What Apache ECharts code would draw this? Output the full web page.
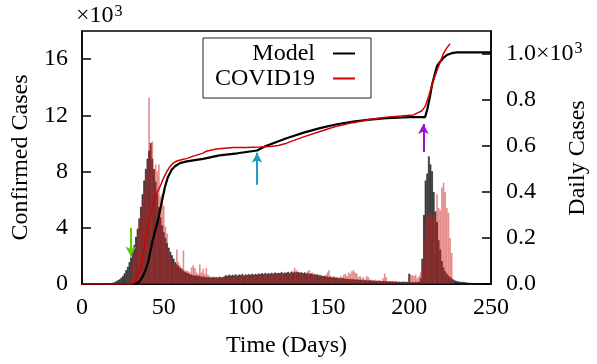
<!DOCTYPE html>
<html>
<head>
<meta charset="utf-8">
<script src="https://cdn.jsdelivr.net/npm/echarts@6/dist/echarts.min.js"></script>
<style>
html,body{margin:0;padding:0;background:#fff;}
#chart{width:597px;height:364px;}
</style>
</head>
<body>
<div id="chart"></div>
<script>
// x ticks
const xTicks = [0, 50, 100, 150, 200, 250];
const leftTicks = [0, 4, 8, 12, 16];
const rightTicks = [0.0, 0.2, 0.4, 0.6, 0.8, 1.0];

// Daily cases (x10^3), index = day
const modelDaily = [
0,0,0,0,0,0,0,0,0,0,0,0,0,0,0,0,
0.002,0.003,0.004,0.006,0.008,0.012,0.016,0.02,0.027,0.035,0.046,0.06,0.075,0.095,
0.115,0.14,0.17,0.205,0.24,0.285,0.335,0.39,0.45,0.5,
0.545,0.58,0.613,0.545,0.5,0.445,0.39,0.335,0.29,0.255,
0.225,0.2,0.178,0.158,0.14,0.125,0.11,0.095,0.085,0.077,
0.07,0.065,0.058,0.052,0.049,0.046,0.042,0.04,0.038,0.036,
0.038,0.034,0.036,0.031,0.033,0.03,0.031,0.028,0.03,0.027,
0.031,0.028,0.03,0.026,0.032,0.029,0.03,0.033,0.038,0.035,
0.041,0.036,0.04,0.037,0.042,0.036,0.041,0.038,0.044,0.037,
0.042,0.039,0.043,0.038,0.045,0.04,0.044,0.041,0.046,0.042,
0.047,0.043,0.048,0.044,0.047,0.045,0.049,0.044,0.05,0.046,
0.049,0.047,0.052,0.046,0.05,0.048,0.053,0.047,0.054,0.049,
0.052,0.05,0.053,0.048,0.051,0.047,0.05,0.045,0.047,0.043,
0.046,0.041,0.043,0.039,0.041,0.037,0.038,0.034,0.036,0.032,
0.033,0.03,0.031,0.028,0.029,0.027,0.028,0.025,0.026,0.024,
0.025,0.022,0.023,0.021,0.022,0.02,0.021,0.019,0.02,0.018,
0.019,0.017,0.018,0.016,0.017,0.015,0.016,0.014,0.015,0.013,
0.014,0.013,0.013,0.012,0.013,0.012,0.012,0.011,0.012,0.011,
0.011,0.01,0.011,0.01,0.01,0.009,0.01,0.009,0.009,0.009,
0.045,0.008,0.008,0.008,0.008,0.009,0.01,0.025,0.11,0.3,
0.45,0.48,0.555,0.52,0.49,0.4,0.315,0.27,0.19,0.15,
0.1,0.072,0.055,0.045,0.036,0.03,0.024,0.019,0.015,0.013,
0.011,0.01,0.009,0.009,0.008,0.007,0.006,0.005,0.005,0.004,
0.004,0.003,0.003,0.002,0.002,0.002,0.001,0.001,0.001,0.001
];

const covidDaily = [
0,0,0,0,0,0,0,0,0,0,0,0,0,0,0,0,0,0,0,0,
0,0,0,0,0,0,0,0,0.005,0.01,
0.03,0.08,0.13,0.17,0.21,0.26,0.3,0.36,0.41,0.47,
0.52,0.81,0.6,0.62,0.5,0.52,0.49,0.52,0.38,0.39,
0.34,0.25,0.22,0.15,0.12,0.1,0.09,0.075,0.15,0.095,
0.08,0.07,0.145,0.06,0.058,0.055,0.05,0.072,0.082,0.07,
0.05,0.045,0.085,0.05,0.066,0.045,0.07,0.04,0.035,0.03,
0.028,0.028,0.025,0.03,0.027,0.025,0.03,0.028,0.032,0.03,
0.035,0.03,0.038,0.033,0.036,0.03,0.035,0.032,0.04,0.033,
0.036,0.034,0.04,0.035,0.038,0.036,0.04,0.035,0.042,0.038,
0.04,0.039,0.043,0.04,0.042,0.038,0.045,0.04,0.044,0.042,
0.045,0.043,0.047,0.04,0.045,0.043,0.048,0.044,0.05,0.055,
0.07,0.06,0.045,0.05,0.04,0.045,0.04,0.05,0.055,0.06,
0.045,0.05,0.04,0.045,0.035,0.04,0.03,0.035,0.03,0.04,
0.05,0.06,0.035,0.03,0.035,0.028,0.03,0.025,0.035,0.03,
0.04,0.045,0.035,0.05,0.045,0.055,0.06,0.05,0.045,0.03,
0.035,0.025,0.03,0.02,0.035,0.03,0.02,0.018,0.015,0.02,
0.012,0.015,0.018,0.012,0.025,0.045,0.03,0.012,0.01,0.008,
0.012,0.01,0.006,0.005,0.01,0.008,0.006,0.012,0.005,0.004,
0.006,0.04,0.038,0.035,0.04,0.025,0.035,0.05,0.085,0.2,
0.27,0.3,0.3,0.31,0.3,0.28,0.3,0.39,0.33,0.32,
0.42,0.44,0.4,0.33,0.31,0.2,0.135,0.02,0,0,
0,0,0,0,0,0,0,0,0,0,
0,0,0,0,0,0,0,0,0,0
];

// Cumulative confirmed cases (x10^3): [day, value]
const modelCum = [
[0,0],[32.5,0],[35,0.15],[37,0.5],[39,1.03],[40.5,1.6],[41.6,2.2],[43,3.0],[45,3.9],[46.6,4.6],
[48.5,5.7],[50.7,6.9],[52.5,7.6],[54.8,8.13],[57,8.4],[59.9,8.6],[64,8.72],[74,8.9],[84,9.15],
[95,9.3],[107,9.5],[112,9.8],[125,10.37],[135,10.75],[145.5,11.09],[155,11.35],[165.8,11.56],
[176,11.7],[186,11.8],[200,11.87],[209.7,11.87],[211,12.4],[212.7,13.33],[214,14.2],[215.8,15.0],
[217,15.5],[218.8,15.8],[221,16.1],[223,16.29],[226,16.42],[229,16.48],[250,16.48]
];
const covidCum = [
[0,0],[31,0],[33,0.3],[35.5,1.03],[37.5,2.2],[39.5,3.63],[41.5,4.8],[43.6,5.76],[45.5,6.4],
[47.7,6.94],[49.7,7.5],[51.8,8.0],[53.8,8.36],[55.8,8.6],[58,8.75],[61.9,8.88],[64,8.92],[68,9.1],
[74,9.31],[76,9.45],[82,9.6],[92.5,9.71],[100,9.72],[108.8,9.74],[115,9.78],[120,9.85],[125,10.02],
[135,10.45],[145.5,10.85],[155,11.2],[165.8,11.48],[176,11.7],[186,11.87],[195,11.95],[202.5,12.03],
[207.6,12.31],[209.7,12.62],[212,13.4],[214.8,14.51],[218,15.5],[220.9,16.4],[223,16.8],[225,17.1]
];

// Arrow annotations: [day, from, to] on the confirmed-cases axis
const arrows = [
  {day: 29.8, from: 4.0, to: 1.95, color: '#66cc00'},
  {day: 107, from: 7.06, to: 9.33, color: '#1f9ac4'},
  {day: 208.7, from: 9.4, to: 11.39, color: '#9a0fc8'}
];

const FONT = 'Liberation Serif';
const chart = echarts.init(document.getElementById('chart'), null, {renderer: 'canvas'});

const option = {
  animation: false,
  textStyle: {fontFamily: FONT, color: '#000'},
  grid: {left: 82, right: 106, top: 31, bottom: 80, show: true, borderColor: '#000', borderWidth: 1.5,
         backgroundColor: 'transparent', containLabel: false, outerBoundsMode: 'none'},
  legend: {
    data: ['Model', 'COVID19'],
    orient: 'vertical',
    left: 203, top: 38,
    align: 'right',
    icon: 'rect',
    itemWidth: 22, itemHeight: 2,
    itemGap: 0,
    padding: [3, 16, 7, 2],
    borderColor: '#222', borderWidth: 1,
    backgroundColor: '#fff',
    textStyle: {fontFamily: FONT, fontSize: 24, color: '#000', width: 110, lineHeight: 25, padding: [0, 13, 0, 0]}
  },
  xAxis: {
    type: 'value', min: xTicks[0], max: xTicks[xTicks.length - 1], interval: 50,
    name: 'Time (Days)', nameLocation: 'middle', nameGap: 50,
    nameTextStyle: {fontFamily: FONT, fontSize: 24, color: '#000'},
    axisLine: {show: true, lineStyle: {color: '#000', width: 1.5}},
    axisTick: {show: false},
    splitLine: {show: false},
    axisLabel: {fontFamily: FONT, fontSize: 24, color: '#000', margin: 12}
  },
  yAxis: [
    {
      type: 'value', min: 0, max: 18, interval: 4, position: 'left',
      name: 'Confirmed Cases', nameLocation: 'middle', nameGap: 48, nameRotate: 90,
      nameTextStyle: {fontFamily: FONT, fontSize: 24, color: '#000'},
      axisLine: {show: true, lineStyle: {color: '#000', width: 1.5}},
      axisTick: {show: true, inside: true, length: 9, lineStyle: {color: '#000', width: 1.5}},
      splitLine: {show: false},
      axisLabel: {fontFamily: FONT, fontSize: 24, color: '#000', margin: 14, showMaxLabel: false,
        formatter: v => leftTicks.includes(v) ? String(v) : ''}
    },
    {
      type: 'value', min: 0, max: 1.1, interval: 0.2, position: 'right',
      axisLine: {show: true, lineStyle: {color: '#000', width: 1.5}},
      axisTick: {show: true, inside: true, length: 9, lineStyle: {color: '#000', width: 1.5}},
      splitLine: {show: false},
      axisLabel: {fontFamily: FONT, fontSize: 24, color: '#000', margin: 15, showMaxLabel: false,
        formatter: v => {
          const r = rightTicks.find(t => Math.abs(t - v) < 1e-6);
          if (r === undefined) return '';
          if (Math.abs(r - 1) < 1e-6) return '{a|1.0×10}{s|3}';
          return r.toFixed(1);
        },
        rich: {
          a: {fontFamily: FONT, fontSize: 24, color: '#000', lineHeight: 26},
          s: {fontFamily: FONT, fontSize: 16, color: '#000', verticalAlign: 'top', lineHeight: 16, padding: [0, 0, 8, 1]}
        }
      }
    }
  ],
  graphic: [
    {type: 'text', left: 76, top: 4, z: 100,
     style: {text: '{a|×10}{s|3}', rich: {
       a: {fontFamily: FONT, fontSize: 24, fill: '#000', lineHeight: 26},
       s: {fontFamily: FONT, fontSize: 16, fill: '#000', lineHeight: 16, padding: [0, 0, 8, 1]}
     }}},
    {type: 'text', x: 578, y: 158, rotation: Math.PI / 2, z: 100,
     style: {text: 'Daily Cases', fontFamily: FONT, fontSize: 24, fill: '#000', align: 'center', verticalAlign: 'middle'}}
  ],
  series: [
    {
      name: 'Model daily', type: 'bar', yAxisIndex: 1, barWidth: 1.6, barGap: '-100%',
      data: modelDaily.map((v, i) => [i, v]),
      itemStyle: {color: '#6e6e6e', borderColor: '#000', borderWidth: 0.6},
      z: 2
    },
    {
      name: 'COVID19 daily', type: 'bar', yAxisIndex: 1, barWidth: 1.6, barGap: '-100%',
      data: covidDaily.map((v, i) => [i, v]),
      itemStyle: {color: 'rgba(205,25,25,0.5)'},
      z: 3
    },
    {
      name: 'Model', type: 'line', yAxisIndex: 0, data: modelCum,
      showSymbol: false, symbol: 'none', smooth: false,
      lineStyle: {color: '#000', width: 2.2}, itemStyle: {color: '#000'},
      z: 5,
      markLine: {
        silent: true, symbol: ['none', 'arrow'], symbolSize: [8, 10], precision: 3,
        label: {show: false},
        data: arrows.map(a => [
          {coord: [a.day, a.from], lineStyle: {color: a.color, width: 2, type: 'solid'}, itemStyle: {color: a.color}},
          {coord: [a.day, a.to]}
        ])
      }
    },
    {
      name: 'COVID19', type: 'line', yAxisIndex: 0, data: covidCum,
      showSymbol: false, symbol: 'none', smooth: false,
      lineStyle: {color: '#d40000', width: 1.5}, itemStyle: {color: '#d40000'},
      z: 6
    }
  ]
};
chart.setOption(option);
</script>
</body>
</html>
